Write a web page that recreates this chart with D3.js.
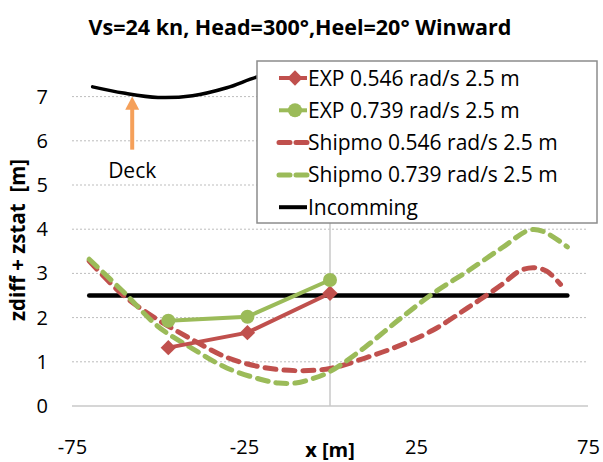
<!DOCTYPE html>
<html lang="en">
<head>
    <meta charset="UTF-8">
    <title>Vs=24 kn, Head=300°, Heel=20° Winward</title>
    <script src="https://d3js.org/d3.v7.min.js"></script>
    <style>
        body {
            margin: 0;
            padding: 0;
            background-color: white;
            font-family: 'Open Sans', sans-serif;
        }
        svg {
            display: block;
        }
    </style>
</head>
<body>
    <svg width="603" height="462"></svg>

    <script>
        // ---- data ----
        const xTicks = [-75, -25, 25, 75];
        const yTicks = [0, 1, 2, 3, 4, 5, 6, 7];

        const expX = [-47, -24, 0];
        const exp546 = [1.32, 1.66, 2.55];
        const exp739 = [1.93, 2.02, 2.85];

        const shipmoX546 = [-70, -60, -50, -40, -30, -20, -10, 0, 10, 20, 30, 40, 50, 55, 59, 63, 67];
        const shipmo546 = [3.28, 2.5, 1.95, 1.5, 1.1, 0.88, 0.8, 0.85, 1.08, 1.36, 1.72, 2.22, 2.75, 3.05, 3.13, 3.05, 2.75];

        const shipmoX739 = [-70, -60, -50, -40, -30, -20, -15, -10, -5, 0, 10, 20, 30, 40, 50, 58, 62, 69];
        const shipmo739 = [3.32, 2.58, 1.8, 1.3, 0.86, 0.6, 0.52, 0.52, 0.62, 0.78, 1.32, 1.95, 2.55, 3.05, 3.58, 3.98, 3.95, 3.6];

        const incomingX = [-70, 69];
        const incoming = [2.5, 2.5];

        const deckX = [-69, -60, -50, -40, -30, -21, -12, -2];
        const deck = [7.22, 7.08, 6.98, 7.02, 7.2, 7.45, 7.6, 7.7];

        const legendLabels = ["EXP 0.546 rad/s 2.5 m", "EXP 0.739 rad/s 2.5 m",
                              "Shipmo 0.546 rad/s 2.5 m", "Shipmo 0.739 rad/s 2.5 m", "Incomming"];

        const red = "#c0504d", green = "#9bbb59";

        const svg = d3.select("svg");

        const x = d3.scaleLinear().domain([-75, 75]).range([72, 588]);
        const y = d3.scaleLinear().domain([0, 7]).range([406, 96.6]);

        // title
        svg.append("text")
            .attr("x", 300).attr("y", 35)
            .attr("text-anchor", "middle")
            .attr("font-weight", "bold")
            .attr("font-size", 21.5)
            .text("Vs=24 kn, Head=300°,Heel=20° Winward");

        // gridlines
        svg.append("g")
            .selectAll("line")
            .data(yTicks.filter(d => d > 0))
            .enter().append("line")
            .attr("x1", x(-75)).attr("x2", x(75))
            .attr("y1", d => y(d)).attr("y2", d => y(d))
            .attr("stroke", "#bdbdbd")
            .attr("stroke-width", 1)
            .attr("stroke-dasharray", "2,2");

        // axis lines crossing at zero
        svg.append("line")
            .attr("x1", x(-75)).attr("x2", x(75))
            .attr("y1", y(0)).attr("y2", y(0))
            .attr("stroke", "#c8c8c8").attr("stroke-width", 1.5);
        svg.append("line")
            .attr("x1", x(0)).attr("x2", x(0))
            .attr("y1", y(0)).attr("y2", y(7.6))
            .attr("stroke", "#c8c8c8").attr("stroke-width", 1.5);

        // tick labels (low position)
        const yAxis = svg.append("g")
            .attr("transform", "translate(48,0)")
            .call(d3.axisLeft(y).tickValues(yTicks).tickFormat(d3.format("d")).tickSize(0).tickPadding(0));
        yAxis.select(".domain").remove();
        yAxis.selectAll("text").attr("font-size", 20).attr("font-family", "'Open Sans', sans-serif").attr("fill", "#000");

        const xAxis = svg.append("g")
            .attr("transform", "translate(0,440)")
            .call(d3.axisBottom(x).tickValues(xTicks).tickFormat(d => String(d)).tickSize(0).tickPadding(0));
        xAxis.select(".domain").remove();
        xAxis.selectAll("text").attr("font-size", 20).attr("font-family", "'Open Sans', sans-serif").attr("fill", "#000");

        // axis titles
        svg.append("text")
            .attr("x", x(0)).attr("y", 457)
            .attr("text-anchor", "middle")
            .attr("font-weight", "bold")
            .attr("font-size", 20)
            .text("x [m]");
        svg.append("text")
            .attr("transform", "translate(25,240) rotate(-90)")
            .attr("text-anchor", "middle")
            .attr("font-weight", "bold")
            .attr("font-size", 20.5)
            .attr("xml:space", "preserve")
            .text("zdiff + zstat  [m]");

        const straight = d3.line().x(d => x(d[0])).y(d => y(d[1]));
        const smooth = d3.line().x(d => x(d[0])).y(d => y(d[1])).curve(d3.curveCatmullRom.alpha(0.5));

        // incoming
        svg.append("path")
            .datum(d3.zip(incomingX, incoming))
            .attr("d", straight)
            .attr("fill", "none").attr("stroke", "#000")
            .attr("stroke-width", 4.5).attr("stroke-linecap", "round");

        // deck
        svg.append("path")
            .datum(d3.zip(deckX, deck))
            .attr("d", smooth)
            .attr("fill", "none").attr("stroke", "#000")
            .attr("stroke-width", 3.5).attr("stroke-linecap", "round");

        // deck arrow + label
        const arrowX = x(-57.5);
        svg.append("line")
            .attr("x1", arrowX).attr("x2", arrowX)
            .attr("y1", y(5.8)).attr("y2", y(6.75))
            .attr("stroke", "#f5a05a").attr("stroke-width", 4);
        svg.append("path")
            .attr("d", `M${arrowX - 7},${y(6.7)} L${arrowX},${y(7.0)} L${arrowX + 7},${y(6.7)} Z`)
            .attr("fill", "#f5a05a");
        svg.append("text")
            .attr("x", arrowX).attr("y", y(5.8) + 28)
            .attr("text-anchor", "middle")
            .attr("font-size", 21)
            .text("Deck");

        // shipmo
        svg.append("path")
            .datum(d3.zip(shipmoX546, shipmo546))
            .attr("d", smooth)
            .attr("fill", "none").attr("stroke", red)
            .attr("stroke-width", 5).attr("stroke-dasharray", "11,8")
            .attr("stroke-linecap", "round");
        svg.append("path")
            .datum(d3.zip(shipmoX739, shipmo739))
            .attr("d", smooth)
            .attr("fill", "none").attr("stroke", green)
            .attr("stroke-width", 5).attr("stroke-dasharray", "11,8")
            .attr("stroke-linecap", "round");

        // EXP lines
        const diamond = d3.symbol().type(d3.symbolDiamond2).size(150);
        svg.append("path")
            .datum(d3.zip(expX, exp546))
            .attr("d", straight)
            .attr("fill", "none").attr("stroke", red).attr("stroke-width", 4);
        svg.append("g").selectAll("path")
            .data(d3.zip(expX, exp546))
            .enter().append("path")
            .attr("d", diamond)
            .attr("transform", d => `translate(${x(d[0])},${y(d[1])})`)
            .attr("fill", red);

        svg.append("path")
            .datum(d3.zip(expX, exp739))
            .attr("d", straight)
            .attr("fill", "none").attr("stroke", green).attr("stroke-width", 4);
        svg.append("g").selectAll("circle")
            .data(d3.zip(expX, exp739))
            .enter().append("circle")
            .attr("cx", d => x(d[0]))
            .attr("cy", d => y(d[1]))
            .attr("r", 7)
            .attr("fill", green);

        // legend
        const legend = svg.append("g").attr("transform", "translate(257,61)");
        legend.append("rect")
            .attr("width", 340).attr("height", 162)
            .attr("fill", "white")
            .attr("stroke", "#8c8c8c").attr("stroke-width", 1.5);

        const legendStyle = [
            {color: red, dash: null, marker: "diamond", width: 4},
            {color: green, dash: null, marker: "circle", width: 4},
            {color: red, dash: "11,6", marker: null, width: 5},
            {color: green, dash: "11,6", marker: null, width: 5},
            {color: "#000", dash: null, marker: null, width: 4}
        ];

        legendLabels.forEach((label, i) => {
            const row = legend.append("g").attr("transform", `translate(0,${17 + i * 32.3})`);
            const st = legendStyle[i];
            row.append("line")
                .attr("x1", 22).attr("x2", 50)
                .attr("stroke", st.color).attr("stroke-width", st.width)
                .attr("stroke-dasharray", st.dash)
                .attr("stroke-linecap", st.dash ? "round" : "butt");
            if (st.marker === "diamond") {
                row.append("path").attr("d", diamond).attr("transform", "translate(38,0)").attr("fill", st.color);
            } else if (st.marker === "circle") {
                row.append("circle").attr("cx", 38).attr("r", 7).attr("fill", st.color);
            }
            row.append("text")
                .attr("x", 51).attr("y", 7.5)
                .attr("font-size", 21)
                .text(label);
        });
    </script>
</body>
</html>
